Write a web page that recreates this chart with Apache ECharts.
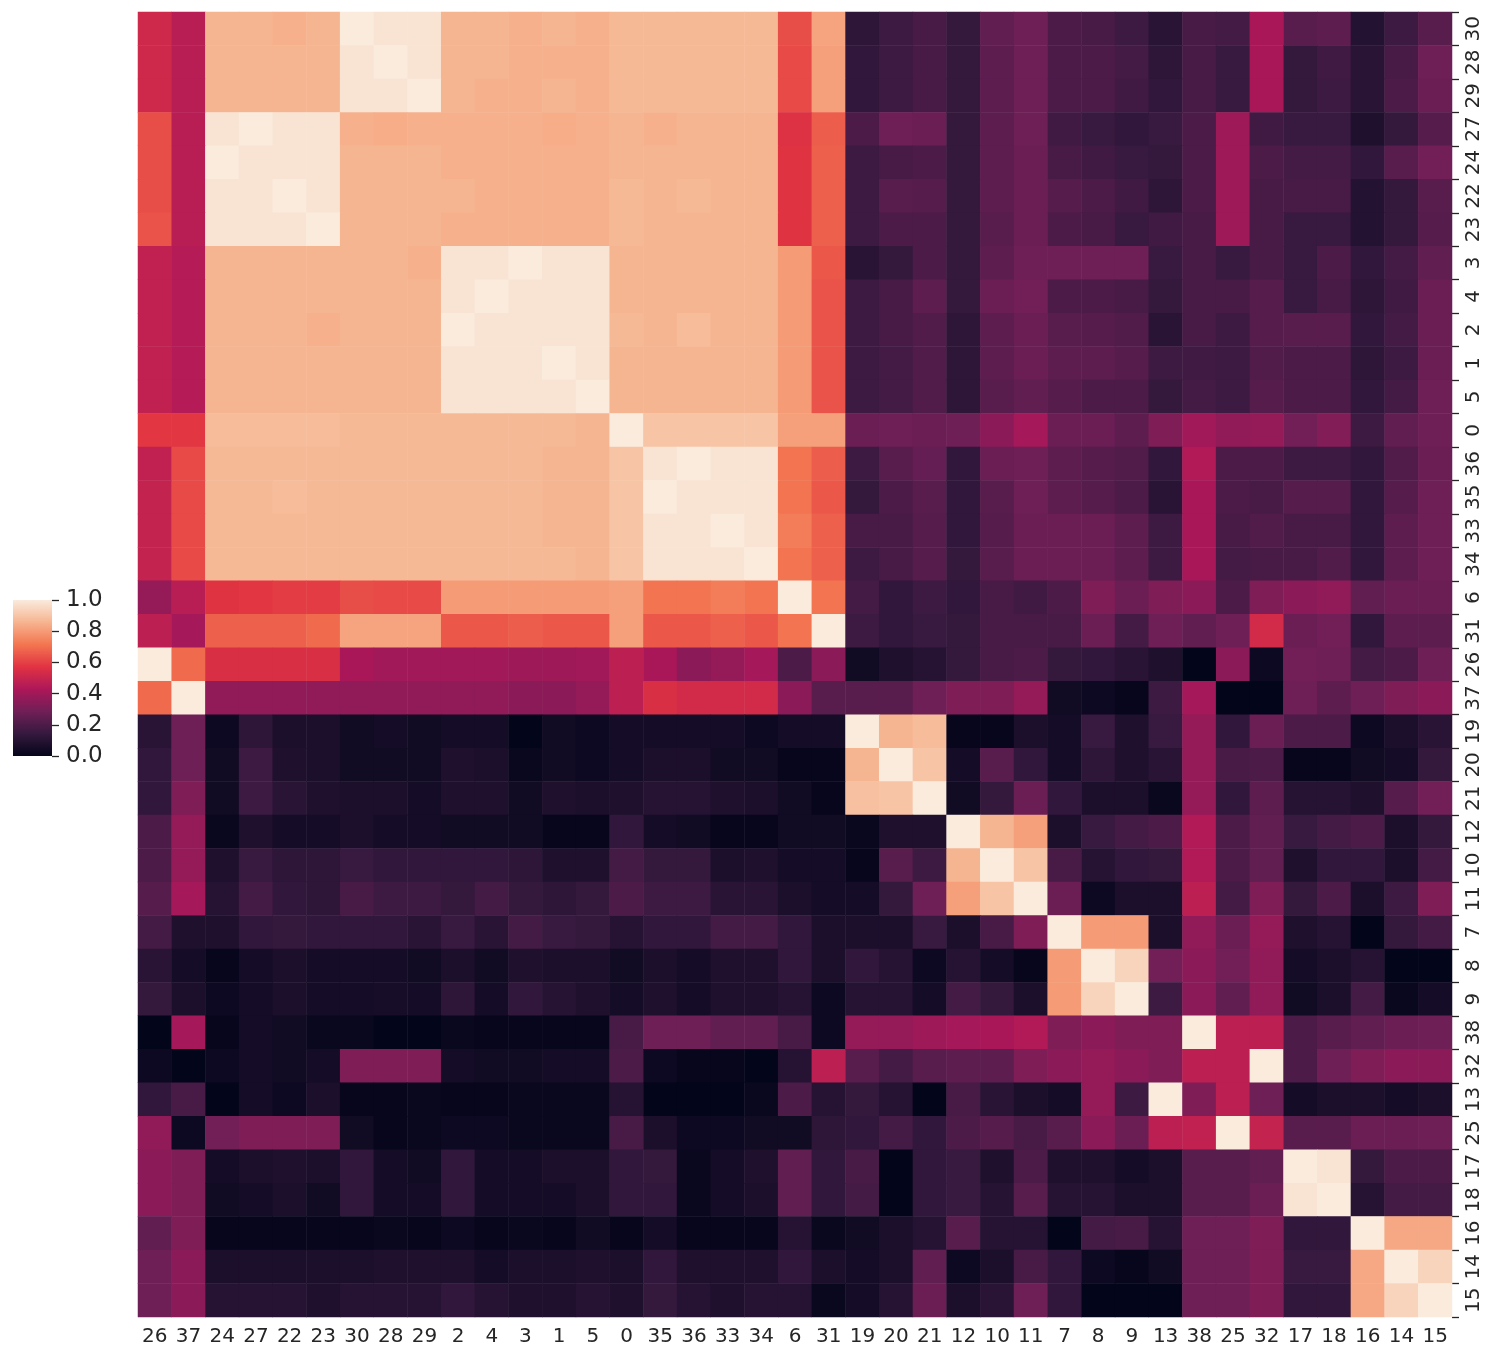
<!DOCTYPE html>
<html>
<head>
<meta charset="utf-8">
<script src="https://cdn.jsdelivr.net/npm/echarts@6/dist/echarts.min.js"></script>
<style>
html,body{margin:0;padding:0;background:#fff;}
#chart{width:1496px;height:1357px;}
</style>
</head>
<body>
<div id="chart"></div>
<script>
// column (x) categories, left to right
const xLabels = ['26','37','24','27','22','23','30','28','29','2','4','3','1','5','0','35','36','33','34','6','31','19','20','21','12','10','11','7','8','9','13','38','25','32','17','18','16','14','15'];
// row (y) categories, top to bottom
const yLabels = ['30','28','29','27','24','22','23','3','4','2','1','5','0','36','35','33','34','6','31','26','37','19','20','21','12','10','11','7','8','9','38','32','13','25','17','18','16','14','15'];
// colourbar tick values
const cbarTicks = [0, 0.2, 0.4, 0.6, 0.8, 1.0];

// one array per displayed row, values in xLabels order
const row30 = [0.52,0.46, 0.86,0.86,0.85,0.86, 1.00,0.98,0.98, 0.86,0.86,0.85,0.86,0.85, 0.87, 0.87,0.87,0.87,0.87, 0.63,0.82, 0.12,0.16,0.19, 0.14,0.25,0.28, 0.20,0.19,0.16, 0.11,0.19,0.18,0.42, 0.23,0.24, 0.09,0.16,0.23];
const row28 = [0.52,0.46, 0.86,0.86,0.86,0.86, 0.98,1.00,0.98, 0.86,0.86,0.85,0.85,0.85, 0.87, 0.87,0.87,0.87,0.87, 0.62,0.81, 0.13,0.16,0.19, 0.14,0.24,0.28, 0.20,0.20,0.18, 0.12,0.19,0.15,0.42, 0.14,0.17, 0.11,0.19,0.28];
const row29 = [0.52,0.46, 0.86,0.86,0.86,0.86, 0.98,0.98,1.00, 0.86,0.85,0.85,0.86,0.85, 0.87, 0.87,0.87,0.87,0.87, 0.62,0.81, 0.13,0.16,0.19, 0.14,0.24,0.28, 0.20,0.20,0.17, 0.13,0.19,0.15,0.42, 0.14,0.16, 0.11,0.20,0.27];
const row27 = [0.63,0.46, 0.98,1.00,0.98,0.98, 0.85,0.84,0.85, 0.85,0.85,0.85,0.84,0.85, 0.86, 0.85,0.86,0.86,0.86, 0.56,0.66, 0.20,0.28,0.27, 0.14,0.24,0.28, 0.17,0.15,0.13, 0.15,0.20,0.39,0.17, 0.15,0.15, 0.08,0.14,0.22];
const row24 = [0.63,0.46, 1.00,0.98,0.98,0.98, 0.86,0.86,0.86, 0.85,0.85,0.85,0.85,0.85, 0.86, 0.86,0.86,0.86,0.86, 0.57,0.67, 0.16,0.19,0.20, 0.14,0.24,0.27, 0.19,0.17,0.15, 0.14,0.20,0.39,0.20, 0.18,0.18, 0.13,0.23,0.29];
const row22 = [0.63,0.46, 0.98,0.98,1.00,0.98, 0.86,0.86,0.86, 0.86,0.85,0.85,0.85,0.85, 0.87, 0.86,0.87,0.86,0.86, 0.57,0.67, 0.16,0.23,0.22, 0.14,0.24,0.27, 0.22,0.20,0.17, 0.12,0.20,0.39,0.19, 0.19,0.19, 0.09,0.14,0.23];
const row23 = [0.64,0.46, 0.98,0.98,0.98,1.00, 0.86,0.86,0.86, 0.85,0.85,0.85,0.85,0.85, 0.87, 0.86,0.86,0.86,0.86, 0.57,0.67, 0.16,0.20,0.20, 0.14,0.23,0.27, 0.20,0.19,0.15, 0.17,0.19,0.39,0.19, 0.15,0.15, 0.09,0.14,0.22];
const row3  = [0.48,0.45, 0.86,0.86,0.86,0.86, 0.86,0.86,0.85, 0.98,0.98,1.00,0.98,0.98, 0.86, 0.86,0.86,0.86,0.86, 0.80,0.65, 0.11,0.14,0.20, 0.14,0.24,0.28, 0.28,0.28,0.28, 0.15,0.19,0.15,0.19, 0.15,0.20, 0.13,0.18,0.25];
const row4  = [0.48,0.45, 0.86,0.86,0.86,0.86, 0.86,0.86,0.86, 0.98,1.00,0.98,0.98,0.98, 0.86, 0.86,0.86,0.86,0.86, 0.80,0.64, 0.16,0.19,0.24, 0.14,0.27,0.29, 0.20,0.20,0.19, 0.14,0.19,0.19,0.22, 0.15,0.19, 0.12,0.17,0.27];
const row2  = [0.48,0.45, 0.86,0.86,0.86,0.85, 0.86,0.86,0.86, 1.00,0.98,0.98,0.98,0.98, 0.87, 0.86,0.88,0.86,0.86, 0.80,0.64, 0.16,0.19,0.21, 0.12,0.24,0.27, 0.23,0.22,0.21, 0.11,0.19,0.16,0.22, 0.23,0.23, 0.13,0.18,0.27];
const row1  = [0.48,0.45, 0.86,0.86,0.86,0.86, 0.86,0.86,0.86, 0.98,0.98,0.98,1.00,0.98, 0.86, 0.86,0.86,0.86,0.86, 0.80,0.64, 0.16,0.18,0.21, 0.12,0.24,0.27, 0.24,0.24,0.22, 0.16,0.17,0.16,0.21, 0.20,0.20, 0.12,0.16,0.27];
const row5  = [0.48,0.45, 0.86,0.86,0.86,0.86, 0.86,0.86,0.86, 0.98,0.98,0.98,0.98,1.00, 0.86, 0.86,0.86,0.86,0.86, 0.80,0.64, 0.16,0.18,0.21, 0.12,0.23,0.25, 0.22,0.20,0.20, 0.14,0.18,0.16,0.22, 0.20,0.20, 0.13,0.18,0.28];
const row0  = [0.58,0.58, 0.88,0.88,0.88,0.88, 0.87,0.87,0.87, 0.87,0.87,0.87,0.87,0.86, 1.00, 0.90,0.90,0.90,0.90, 0.81,0.81, 0.27,0.28,0.27, 0.28,0.35,0.41, 0.27,0.27,0.24, 0.32,0.40,0.36,0.37, 0.29,0.33, 0.16,0.25,0.28];
const row36 = [0.48,0.62, 0.87,0.87,0.87,0.87, 0.87,0.87,0.87, 0.87,0.87,0.87,0.86,0.86, 0.90, 0.98,1.00,0.98,0.98, 0.71,0.66, 0.16,0.23,0.26, 0.13,0.27,0.28, 0.24,0.22,0.21, 0.13,0.44,0.20,0.20, 0.16,0.16, 0.13,0.21,0.27];
const row35 = [0.49,0.62, 0.87,0.87,0.88,0.87, 0.87,0.87,0.87, 0.87,0.87,0.87,0.86,0.86, 0.90, 1.00,0.98,0.98,0.98, 0.71,0.65, 0.14,0.20,0.23, 0.13,0.23,0.28, 0.24,0.22,0.20, 0.11,0.42,0.20,0.19, 0.22,0.22, 0.13,0.22,0.28];
const row33 = [0.49,0.62, 0.87,0.87,0.87,0.87, 0.87,0.87,0.87, 0.87,0.87,0.87,0.86,0.86, 0.90, 0.98,0.98,1.00,0.98, 0.73,0.67, 0.19,0.19,0.22, 0.13,0.22,0.27, 0.27,0.27,0.24, 0.16,0.42,0.19,0.21, 0.19,0.19, 0.13,0.24,0.28];
const row34 = [0.49,0.62, 0.87,0.87,0.87,0.87, 0.87,0.87,0.87, 0.87,0.87,0.87,0.87,0.86, 0.90, 0.98,0.98,0.98,1.00, 0.71,0.67, 0.16,0.19,0.22, 0.14,0.23,0.27, 0.27,0.27,0.24, 0.16,0.42,0.18,0.19, 0.19,0.21, 0.13,0.24,0.28];
const row6  = [0.37,0.46, 0.57,0.58,0.59,0.59, 0.63,0.62,0.62, 0.80,0.80,0.80,0.80,0.80, 0.81, 0.71,0.71,0.73,0.71, 1.00,0.71, 0.18,0.13,0.16, 0.13,0.19,0.17, 0.20,0.32,0.27, 0.32,0.35,0.20,0.32, 0.35,0.36, 0.25,0.27,0.27];
const row31 = [0.47,0.41, 0.67,0.67,0.67,0.69, 0.82,0.82,0.82, 0.65,0.65,0.66,0.65,0.65, 0.81, 0.65,0.65,0.67,0.65, 0.71,1.00, 0.16,0.13,0.15, 0.14,0.19,0.19, 0.19,0.27,0.18, 0.28,0.25,0.28,0.53, 0.27,0.29, 0.13,0.24,0.24];
const row26 = [1.00,0.69, 0.55,0.55,0.55,0.55, 0.42,0.40,0.40, 0.40,0.40,0.39,0.39,0.40, 0.47, 0.42,0.35,0.37,0.41, 0.20,0.35, 0.04,0.08,0.10, 0.14,0.19,0.20, 0.14,0.13,0.11, 0.08,0.00,0.35,0.03, 0.29,0.28, 0.18,0.20,0.28];
const row37 = [0.69,1.00, 0.36,0.36,0.36,0.36, 0.36,0.36,0.36, 0.36,0.36,0.35,0.35,0.37, 0.47, 0.55,0.53,0.53,0.53, 0.35,0.23, 0.23,0.23,0.28, 0.32,0.32,0.37, 0.04,0.03,0.01, 0.16,0.41,0.00,0.00, 0.28,0.24, 0.28,0.32,0.35];
const row19 = [0.11,0.28, 0.03,0.12,0.07,0.07, 0.04,0.05,0.04, 0.05,0.05,0.00,0.04,0.03, 0.05, 0.05,0.05,0.05,0.03, 0.05,0.05, 1.00,0.86,0.88, 0.01,0.01,0.07, 0.05,0.15,0.08, 0.15,0.37,0.13,0.27, 0.20,0.20, 0.03,0.07,0.11];
const row20 = [0.13,0.28, 0.04,0.16,0.08,0.07, 0.04,0.04,0.04, 0.08,0.07,0.02,0.04,0.03, 0.05, 0.07,0.07,0.04,0.04, 0.01,0.01, 0.86,1.00,0.90, 0.05,0.23,0.13, 0.05,0.12,0.08, 0.11,0.37,0.19,0.20, 0.01,0.01, 0.04,0.05,0.14];
const row21 = [0.13,0.32, 0.04,0.16,0.11,0.08, 0.07,0.07,0.05, 0.08,0.08,0.04,0.08,0.07, 0.08, 0.10,0.10,0.08,0.07, 0.04,0.01, 0.89,0.90,1.00, 0.04,0.14,0.27, 0.13,0.07,0.07, 0.02,0.37,0.13,0.24, 0.10,0.10, 0.08,0.22,0.29];
const row12 = [0.20,0.37, 0.02,0.08,0.05,0.05, 0.07,0.05,0.05, 0.04,0.04,0.04,0.01,0.01, 0.13, 0.05,0.04,0.01,0.01, 0.04,0.04, 0.02,0.08,0.08, 1.00,0.86,0.81, 0.07,0.15,0.18, 0.20,0.44,0.20,0.25, 0.15,0.18, 0.20,0.07,0.14];
const row10 = [0.20,0.37, 0.08,0.15,0.12,0.12, 0.15,0.13,0.13, 0.13,0.13,0.12,0.08,0.08, 0.18, 0.14,0.14,0.07,0.08, 0.05,0.05, 0.01,0.23,0.16, 0.86,1.00,0.90, 0.19,0.10,0.13, 0.14,0.44,0.20,0.25, 0.08,0.13, 0.13,0.07,0.18];
const row11 = [0.22,0.41, 0.10,0.18,0.13,0.12, 0.19,0.16,0.16, 0.14,0.18,0.14,0.12,0.14, 0.20, 0.16,0.16,0.11,0.11, 0.07,0.05, 0.05,0.14,0.28, 0.81,0.90,1.00, 0.27,0.03,0.07, 0.07,0.47,0.18,0.32, 0.14,0.20, 0.07,0.16,0.32];
const row7  = [0.18,0.08, 0.08,0.13,0.14,0.13, 0.13,0.13,0.11, 0.15,0.11,0.18,0.15,0.14, 0.10, 0.13,0.13,0.18,0.18, 0.13,0.07, 0.07,0.07,0.15, 0.07,0.19,0.32, 1.00,0.80,0.80, 0.07,0.36,0.27,0.37, 0.08,0.10, 0.00,0.14,0.18];
const row8  = [0.11,0.05, 0.01,0.05,0.07,0.05, 0.05,0.05,0.04, 0.07,0.04,0.08,0.07,0.07, 0.04, 0.07,0.05,0.08,0.08, 0.13,0.07, 0.13,0.10,0.03, 0.10,0.05,0.01, 0.80,1.00,0.94, 0.29,0.35,0.29,0.36, 0.05,0.07, 0.10,0.00,0.00];
const row9  = [0.14,0.07, 0.03,0.05,0.07,0.05, 0.05,0.06,0.05, 0.12,0.05,0.13,0.10,0.08, 0.05, 0.08,0.05,0.08,0.08, 0.10,0.03, 0.10,0.10,0.05, 0.18,0.14,0.07, 0.80,0.94,1.00, 0.16,0.35,0.25,0.36, 0.04,0.07, 0.18,0.02,0.05];
const row38 = [0.00,0.41, 0.01,0.05,0.04,0.02, 0.02,0.00,0.00, 0.02,0.01,0.01,0.01,0.01, 0.19, 0.28,0.28,0.25,0.25, 0.19,0.03, 0.37,0.37,0.39, 0.41,0.42,0.44, 0.32,0.35,0.32, 0.32,1.00,0.47,0.47, 0.20,0.23, 0.25,0.27,0.28];
const row32 = [0.03,0.00, 0.03,0.05,0.04,0.05, 0.32,0.32,0.32, 0.05,0.04,0.04,0.05,0.05, 0.20, 0.03,0.01,0.01,0.00, 0.10,0.47, 0.23,0.18,0.23, 0.24,0.24,0.32, 0.35,0.37,0.35, 0.32,0.47,0.47,1.00, 0.20,0.28, 0.32,0.35,0.35];
const row13 = [0.13,0.19, 0.00,0.05,0.03,0.07, 0.01,0.01,0.02, 0.01,0.01,0.02,0.02,0.02, 0.10, 0.00,0.00,0.00,0.02, 0.20,0.10, 0.14,0.10,0.00, 0.19,0.11,0.07, 0.05,0.37,0.16, 1.00,0.32,0.47,0.28, 0.05,0.07, 0.07,0.05,0.07];
const row25 = [0.36,0.03, 0.29,0.32,0.32,0.32, 0.04,0.01,0.02, 0.03,0.03,0.02,0.02,0.02, 0.19, 0.07,0.03,0.03,0.04, 0.04,0.12, 0.13,0.18,0.13, 0.20,0.22,0.19, 0.23,0.35,0.27, 0.47,0.48,1.00,0.49, 0.23,0.23, 0.27,0.27,0.28];
const row17 = [0.35,0.32, 0.05,0.07,0.08,0.07, 0.13,0.05,0.04, 0.13,0.05,0.05,0.07,0.07, 0.13, 0.14,0.02,0.05,0.08, 0.25,0.13, 0.19,0.00,0.13, 0.15,0.08,0.20, 0.08,0.08,0.05, 0.07,0.23,0.23,0.25, 1.00,0.98, 0.14,0.20,0.20];
const row18 = [0.35,0.32, 0.04,0.05,0.07,0.04, 0.13,0.05,0.05, 0.13,0.05,0.05,0.05,0.07, 0.13, 0.13,0.02,0.05,0.07, 0.25,0.13, 0.18,0.00,0.13, 0.15,0.10,0.23, 0.10,0.10,0.07, 0.07,0.23,0.23,0.27, 0.98,1.00, 0.10,0.18,0.18];
const row16 = [0.25,0.32, 0.01,0.01,0.01,0.01, 0.01,0.02,0.01, 0.03,0.01,0.02,0.01,0.04, 0.01, 0.05,0.01,0.01,0.01, 0.10,0.02, 0.04,0.07,0.10, 0.23,0.10,0.10, 0.00,0.18,0.19, 0.10,0.28,0.28,0.32, 0.13,0.13, 1.00,0.83,0.83];
const row14 = [0.28,0.35, 0.07,0.07,0.07,0.07, 0.07,0.08,0.08, 0.08,0.05,0.07,0.07,0.08, 0.07, 0.13,0.08,0.08,0.08, 0.13,0.07, 0.05,0.07,0.25, 0.03,0.07,0.19, 0.13,0.03,0.01, 0.04,0.28,0.28,0.32, 0.15,0.15, 0.83,1.00,0.94];
const row15 = [0.28,0.35, 0.10,0.10,0.10,0.08, 0.10,0.10,0.10, 0.13,0.10,0.08,0.08,0.10, 0.08, 0.14,0.10,0.08,0.10, 0.10,0.02, 0.05,0.10,0.27, 0.07,0.11,0.28, 0.13,0.00,0.00, 0.00,0.28,0.28,0.32, 0.13,0.13, 0.83,0.94,1.00];

const rows = [row30,row28,row29,row27,row24,row22,row23,row3,row4,row2,row1,row5,row0,row36,row35,row33,row34,row6,row31,row26,row37,row19,row20,row21,row12,row10,row11,row7,row8,row9,row38,row32,row13,row25,row17,row18,row16,row14,row15];

// seaborn "rocket" colormap, evenly spaced stops from 0 to 1
const rocket = ['#03051A','#35193E','#701F57','#AD1759','#E13342','#F37651','#F6B48F','#FAEBDD'];

const heatData = [];
rows.forEach((r, i) => r.forEach((v, j) => heatData.push([j, i, v])));

const txt = '#262626';
const font = 'DejaVu Sans';
const chart = echarts.init(document.getElementById('chart'), null, {renderer: 'canvas'});
chart.setOption({
  animation: false,
  backgroundColor: '#ffffff',
  textStyle: {fontFamily: font},
  grid: [
    {left: 138, right: 44, top: 12, bottom: 40},
    {left: 13, top: 600, width: 39, height: 156}
  ],
  xAxis: [
    {type: 'category', gridIndex: 0, data: xLabels, position: 'bottom',
     axisLine: {show: false}, axisTick: {show: false}, splitLine: {show: false},
     axisLabel: {interval: 0, fontSize: 20, color: txt, fontFamily: font, margin: 10}},
    {type: 'category', gridIndex: 1, data: ['cb'], show: false}
  ],
  yAxis: [
    {type: 'category', gridIndex: 0, data: yLabels, inverse: true, position: 'right',
     axisLine: {show: false}, splitLine: {show: false},
     axisTick: {show: true, length: 7, lineStyle: {color: txt, width: 1.3}},
     axisLabel: {interval: 0, rotate: 90, fontSize: 20, color: txt, fontFamily: font, margin: 12}},
    {type: 'value', gridIndex: 1, min: cbarTicks[0], max: cbarTicks[cbarTicks.length - 1], interval: 0.2, position: 'right',
     axisLine: {show: false}, splitLine: {show: false},
     axisTick: {show: true, length: 7, lineStyle: {color: txt, width: 1.3}},
     axisLabel: {fontSize: 23, color: txt, fontFamily: font, margin: 14,
       formatter: v => v.toFixed(1)}}
  ],
  visualMap: {
    show: false, type: 'continuous', min: 0, max: 1, dimension: 2, seriesIndex: 0,
    inRange: {color: rocket}
  },
  series: [
    {type: 'heatmap', xAxisIndex: 0, yAxisIndex: 0, data: heatData,
     itemStyle: {borderWidth: 0}, emphasis: {disabled: true}},
    {type: 'bar', xAxisIndex: 1, yAxisIndex: 1, data: [cbarTicks[cbarTicks.length - 1]],
     barWidth: '100%', silent: true,
     itemStyle: {color: {type: 'linear', x: 0, y: 1, x2: 0, y2: 0,
       colorStops: rocket.map((c, k) => ({offset: k / (rocket.length - 1), color: c}))}}}
  ]
});
</script>
</body>
</html>
